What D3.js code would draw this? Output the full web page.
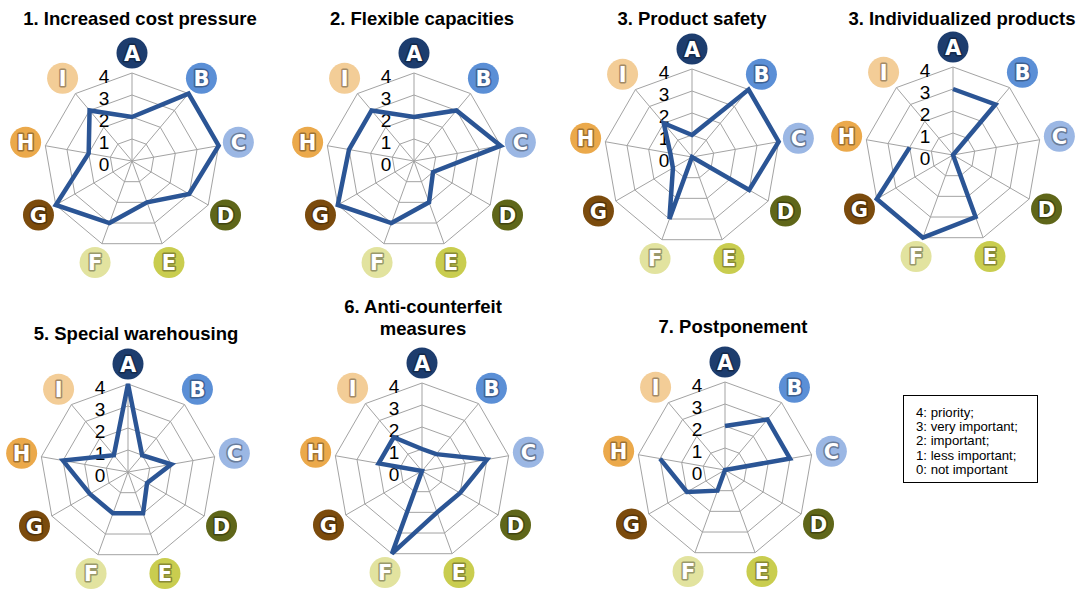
<!DOCTYPE html>
<html>
<head>
<meta charset="utf-8">
<script src="https://cdn.jsdelivr.net/npm/d3@7"></script>
<style>
  html, body { margin: 0; padding: 0; background: #ffffff; }
  svg { display: block; }
</style>
</head>
<body>
<svg id="chart" width="1085" height="589"></svg>
<script>
// ---------- data ----------
const axisLabels = ["A", "B", "C", "D", "E", "F", "G", "H", "I"];
const tickValues = [0, 1, 2, 3, 4];
const chartTitles = [
  ["1. Increased cost pressure"],
  ["2. Flexible capacities"],
  ["3. Product safety"],
  ["3. Individualized products"],
  ["5. Special warehousing"],
  ["6. Anti-counterfeit", "measures"],
  ["7. Postponement"]
];
const costPressure           = [2, 4, 4, 3, 2, 3, 4, 2, 3];
const flexibleCapacities     = [2, 3, 4, 1, 2, 3, 4, 3, 3];
const productSafety          = [1, 4, 4, 3, 0, 3, 1, 1, 2];
const individualizedProducts = [3, 3, 0, 0, 3, 4, 4, 2, null];
const specialWarehousing     = [4, 1, 2, 1, 2, 2, 2, 3, 1];
const antiCounterfeit        = [1, 1, 3, 2, 2, 4, 0, 2, 2];
const postponement           = [2, 3, 3, 0, 0, 1, 2, 3, null];
const legendLines = [
  "4: priority;",
  "3: very important;",
  "2: important;",
  "1: less important;",
  "0: not important"
];

// ---------- styles / layout ----------
const seriesList = [costPressure, flexibleCapacities, productSafety, individualizedProducts,
                    specialWarehousing, antiCounterfeit, postponement];
const badgeColors = ["#1d3d6e", "#5b8fd6", "#9bb7e4", "#5f6619", "#c9cd4f",
                     "#e2e39f", "#7b4b0d", "#eba94b", "#f3cd97"];
const panels = [
  { cx: 132, cy: 161, tx: 140, ty: 25 },
  { cx: 414, cy: 161, tx: 422, ty: 25 },
  { cx: 692, cy: 157, tx: 692, ty: 25 },
  { cx: 953, cy: 155, tx: 962, ty: 25 },
  { cx: 128, cy: 472, tx: 136, ty: 340 },
  { cx: 422, cy: 471, tx: 423, ty: 313 },
  { cx: 725, cy: 470, tx: 733, ty: 333 }
];
const R = 88;
const BADGE_R = 108;

const svg = d3.select("#chart");
const rScale = d3.scaleLinear().domain([0, 4]).range([0, R]);
const angle = d3.scaleLinear().domain([0, axisLabels.length]).range([0, 2 * Math.PI]);

const gridLine = d3.lineRadial()
  .angle((d, i) => angle(i))
  .radius(d => rScale(d))
  .curve(d3.curveLinearClosed);

seriesList.forEach((series, k) => {
  const p = panels[k];
  const g = svg.append("g").attr("transform", `translate(${p.cx},${p.cy})`);

  // grid rings
  tickValues.filter(t => t > 0).forEach(t => {
    g.append("path")
      .attr("d", gridLine(axisLabels.map(() => t)))
      .attr("fill", "none")
      .attr("stroke", "#a3a3a3")
      .attr("stroke-width", 1);
  });
  // spokes
  axisLabels.forEach((lab, i) => {
    const a = angle(i);
    g.append("line")
      .attr("x1", 0).attr("y1", 0)
      .attr("x2", rScale(4) * Math.sin(a))
      .attr("y2", -rScale(4) * Math.cos(a))
      .attr("stroke", "#a3a3a3")
      .attr("stroke-width", 1);
  });

  // tick labels
  tickValues.forEach(t => {
    g.append("text")
      .attr("x", -28)
      .attr("y", -rScale(t) + 9.5)
      .attr("text-anchor", "middle")
      .attr("font-family", "Liberation Sans, Arial, sans-serif")
      .attr("font-size", 19)
      .attr("fill", "#000")
      .text(t);
  });

  // data line
  const complete = series.every(v => v != null);
  const dataLine = d3.lineRadial()
    .defined(d => d != null)
    .angle((d, i) => angle(i))
    .radius(d => rScale(d))
    .curve(complete ? d3.curveLinearClosed : d3.curveLinear);
  g.append("path")
    .attr("d", dataLine(series))
    .attr("fill", "none")
    .attr("stroke", "#2b5595")
    .attr("stroke-width", 4.5)
    .attr("stroke-linejoin", "miter");

  // badges
  axisLabels.forEach((lab, i) => {
    const a = angle(i);
    const bx = BADGE_R * Math.sin(a), by = -BADGE_R * Math.cos(a);
    const col = badgeColors[i];
    const bg = g.append("g").attr("transform", `translate(${bx},${by})`);
    bg.append("circle").attr("r", 15.5).attr("fill", col);
    bg.append("text")
      .attr("y", 7.5)
      .attr("text-anchor", "middle")
      .attr("font-family", "DejaVu Sans, Liberation Sans, sans-serif")
      .attr("font-weight", "bold")
      .attr("font-size", 21)
      .attr("fill", "#ffffff")
      .attr("stroke", d3.color(col).darker(1.1).formatHex())
      .attr("stroke-width", 3)
      .attr("stroke-linejoin", "round")
      .attr("paint-order", "stroke")
      .text(lab);
  });

  // title
  chartTitles[k].forEach((line, j) => {
    svg.append("text")
      .attr("x", p.tx)
      .attr("y", p.ty + j * 22)
      .attr("text-anchor", "middle")
      .attr("font-family", "Liberation Sans, Arial, sans-serif")
      .attr("font-weight", "bold")
      .attr("font-size", 18.5)
      .attr("fill", "#000")
      .text(line);
  });
});

// legend
const lg = svg.append("g");
lg.append("rect")
  .attr("x", 903.5).attr("y", 395.5)
  .attr("width", 134).attr("height", 87)
  .attr("fill", "#fff")
  .attr("stroke", "#000")
  .attr("stroke-width", 1);
legendLines.forEach((t, i) => {
  lg.append("text")
    .attr("x", 916)
    .attr("y", 417 + i * 14.2)
    .attr("font-family", "Liberation Sans, Arial, sans-serif")
    .attr("font-size", 13.2)
    .attr("fill", "#000")
    .text(t);
});
</script>
</body>
</html>
